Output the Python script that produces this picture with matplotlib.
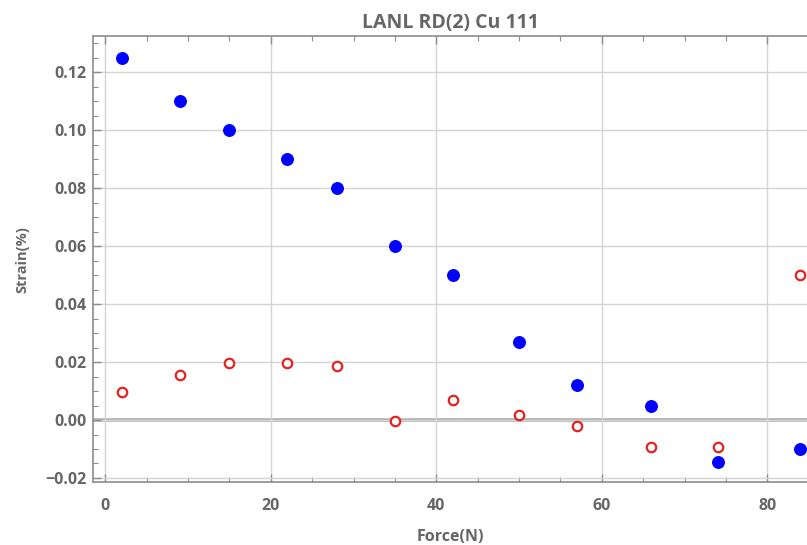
import numpy as np
import matplotlib.pyplot as plt
from matplotlib.ticker import MultipleLocator

# data
force = [2, 9, 15, 22, 28, 35, 42, 50, 57, 66, 74, 84]
strain_blue = [0.125, 0.110, 0.100, 0.090, 0.080, 0.060, 0.050, 0.027, 0.012, 0.005, -0.0145, -0.010]
strain_red = [0.0097, 0.0157, 0.0197, 0.0197, 0.0187, -0.0003, 0.0068, 0.0017, -0.0022, -0.0093, -0.0093, 0.050]

plt.rcParams['font.family'] = ['Open Sans', 'DejaVu Sans']
text_col = '#666666'
frame_col = '#8c8c8c'

fig = plt.figure(figsize=(8.07, 5.45), dpi=100)
ax = fig.add_axes([0.1156, 0.115, 0.8844, 0.819])

# grid and zero line
ax.grid(True, which='major', color='#d4d4d4', linewidth=1.0)
ax.axhline(0, color='#b0b0b0', linewidth=2.6, zorder=1.5)

ax.plot(force, strain_blue, 'o', color='#0000ff', markersize=8.3, zorder=3)
ax.plot(force, strain_red, 'o', markerfacecolor='white', markeredgecolor='#e32222',
        markeredgewidth=1.6, markersize=6.8, zorder=3)

ax.set_xlim(-1.45, 84.8)
ax.set_ylim(-0.0215, 0.1325)
ax.xaxis.set_major_locator(MultipleLocator(20))
ax.xaxis.set_minor_locator(MultipleLocator(5))
ax.yaxis.set_major_locator(MultipleLocator(0.02))
ax.yaxis.set_minor_locator(MultipleLocator(0.005))
ax.yaxis.set_major_formatter(plt.FuncFormatter(lambda v, p: ('\u2212' if v < -1e-9 else '') + '%.2f' % abs(v)))

for side in ['left', 'bottom', 'top']:
    ax.spines[side].set_color(frame_col)
    ax.spines[side].set_linewidth(1.2)
ax.spines['right'].set_visible(False)

ax.tick_params(which='both', direction='in', top=True, right=False, color=frame_col,
               labelcolor=text_col, labelsize=11.5)
ax.tick_params(which='major', length=6, width=1)
ax.tick_params(which='minor', length=3.5, width=0.8)
for lbl in ax.get_xticklabels() + ax.get_yticklabels():
    lbl.set_fontweight('bold')
ax.tick_params(axis='x', pad=11)
ax.tick_params(axis='y', pad=5)

ax.set_title('LANL RD(2) Cu 111', color=text_col, fontsize=14, fontweight='bold', pad=6)
ax.set_xlabel('Force(N)', color=text_col, fontsize=11.5, fontweight='bold', labelpad=11)
ax.set_ylabel('Strain(%)', color=text_col, fontsize=10.5, fontweight='bold', labelpad=11)

fig.savefig('out.png', dpi=100)
